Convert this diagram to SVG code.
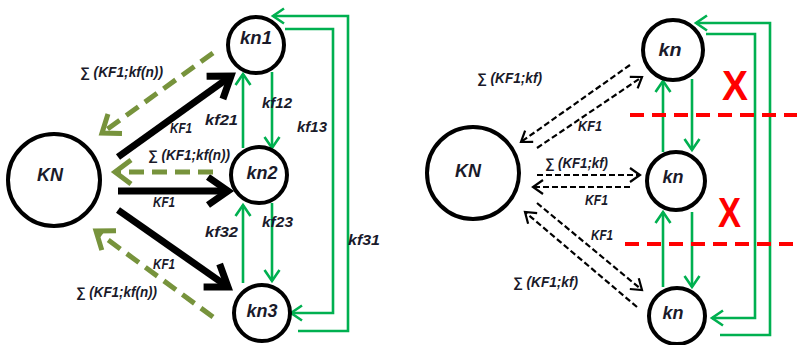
<svg xmlns="http://www.w3.org/2000/svg" width="797" height="345" viewBox="0 0 797 345">
<style>
.node{fill:#fff;stroke:#000;stroke-width:4}
.lbl{font-family:"Liberation Sans",Arial,sans-serif;font-weight:bold;font-style:italic;fill:#1a1a2a}
.nt{font-size:18px}
.st{font-size:14px}
.g{fill:none;stroke:#00b050;stroke-width:2.6;marker-end:url(#mg)}
.bk{fill:none;stroke:#000;stroke-width:7;marker-end:url(#mb)}
.ol{fill:none;stroke:#77933c;stroke-width:5;stroke-dasharray:15 8;marker-end:url(#mo)}
.bd{fill:none;stroke:#000;stroke-width:2.2;stroke-dasharray:6 3;marker-end:url(#md)}
.rd{fill:none;stroke:#ff0000;stroke-width:4;stroke-dasharray:14 8}
.x{font-family:"Liberation Sans",Arial,sans-serif;font-weight:bold;font-size:42px;fill:#ff0000}
</style>
<defs>
<marker id="mg" markerUnits="userSpaceOnUse" viewBox="-16 -11 18 22" markerWidth="18" markerHeight="22" refX="0" refY="0" orient="auto" overflow="visible">
<path d="M-11,-7.5 L0,0 L-11,7.5" fill="none" stroke="#00b050" stroke-width="2.6"/>
</marker>
<marker id="mb" markerUnits="userSpaceOnUse" viewBox="-30 -20 34 40" markerWidth="34" markerHeight="40" refX="0" refY="0" orient="auto" overflow="visible">
<path d="M-20,-14 L0,0 L-20,14" fill="none" stroke="#000" stroke-width="7"/>
</marker>
<marker id="mo" markerUnits="userSpaceOnUse" viewBox="-24 -16 28 32" markerWidth="28" markerHeight="32" refX="0" refY="0" orient="auto" overflow="visible">
<path d="M-16,-12 L0,0 L-16,12" fill="none" stroke="#77933c" stroke-width="5"/>
</marker>
<marker id="md" markerUnits="userSpaceOnUse" viewBox="-14 -10 16 20" markerWidth="16" markerHeight="20" refX="0" refY="0" orient="auto" overflow="visible">
<path d="M-10,-7 L0,0 L-10,7" fill="none" stroke="#000" stroke-width="2.2"/>
</marker>
</defs>

<g id="connectors">
<!-- left green -->
<path class="g" d="M272,72 L272,148"/>
<path class="g" d="M243,148 L243,74"/>
<path class="g" d="M243,283 L243,205"/>
<path class="g" d="M272,203 L272,281"/>
<path class="g" d="M285,29 L333,29 L333,313 L291,313"/>
<path class="g" d="M298,331 L348,331 L348,16 L273,16"/>
<!-- left black thick -->
<path class="bk" d="M118,157 L231,76"/>
<path class="bk" d="M118,191 L228,191"/>
<path class="bk" d="M118,210 L228,287"/>
<!-- left olive dashed -->
<path class="ol" d="M213,53 L102,133"/>
<path class="ol" d="M213,172 L115,172"/>
<path class="ol" d="M213,317 L96,231"/>
<!-- right green -->
<path class="g" d="M663,152 L663,81"/>
<path class="g" d="M692,79 L692,150"/>
<path class="g" d="M663,287 L663,212"/>
<path class="g" d="M692,212 L692,287"/>
<path class="g" d="M706,34 L755,34 L755,318 L712,318"/>
<path class="g" d="M720,335 L770,335 L770,23 L696,23"/>
<!-- right black dashed -->
<path class="bd" d="M630,65 L521,142"/>
<path class="bd" d="M537,148 L642,77"/>
<path class="bd" d="M537,175 L640,175"/>
<path class="bd" d="M630,187 L533,187"/>
<path class="bd" d="M537,203 L642,290"/>
<path class="bd" d="M637,307 L525,212"/>
<!-- red dashed separators -->
<path class="rd" d="M630,115 L797,115"/>
<path class="rd" d="M625,244 L797,244"/>
</g>

<g id="node-KN-left">
<circle class="node" cx="54" cy="180" r="46"/>
<text class="lbl nt" x="50" y="181" text-anchor="middle" textLength="26" lengthAdjust="spacingAndGlyphs">KN</text>
</g>
<g id="node-kn1">
<circle class="node" cx="256" cy="45" r="28"/>
<text class="lbl nt" x="256" y="44" text-anchor="middle" textLength="32" lengthAdjust="spacingAndGlyphs">kn1</text>
</g>
<g id="node-kn2">
<circle class="node" cx="259" cy="175" r="28"/>
<text class="lbl nt" x="262" y="179" text-anchor="middle" textLength="31" lengthAdjust="spacingAndGlyphs">kn2</text>
</g>
<g id="node-kn3">
<circle class="node" cx="262" cy="313" r="28"/>
<text class="lbl nt" x="262" y="317" text-anchor="middle" textLength="31" lengthAdjust="spacingAndGlyphs">kn3</text>
</g>

<g id="node-KN-right">
<circle class="node" cx="473" cy="173" r="46"/>
<text class="lbl nt" x="468" y="177" text-anchor="middle" textLength="26" lengthAdjust="spacingAndGlyphs">KN</text>
</g>
<g id="node-kn-top">
<circle class="node" cx="673" cy="50" r="30"/>
<text class="lbl nt" x="670" y="56" text-anchor="middle" textLength="23" lengthAdjust="spacingAndGlyphs">kn</text>
</g>
<g id="node-kn-mid">
<circle class="node" cx="676" cy="181" r="29"/>
<text class="lbl nt" x="673" y="183" text-anchor="middle" textLength="21" lengthAdjust="spacingAndGlyphs">kn</text>
</g>
<g id="node-kn-bottom">
<circle class="node" cx="677" cy="316" r="28"/>
<text class="lbl nt" x="673" y="319" text-anchor="middle" textLength="21" lengthAdjust="spacingAndGlyphs">kn</text>
</g>

<g id="labels">
<text class="lbl st" x="80" y="77" textLength="83" lengthAdjust="spacingAndGlyphs">∑ (KF1;kf(n))</text>
<text class="lbl st" x="170" y="133" textLength="22" lengthAdjust="spacingAndGlyphs">KF1</text>
<text class="lbl st" x="205" y="125" textLength="33" lengthAdjust="spacingAndGlyphs">kf21</text>
<text class="lbl st" x="262" y="108" textLength="30" lengthAdjust="spacingAndGlyphs">kf12</text>
<text class="lbl st" x="297" y="132" textLength="30" lengthAdjust="spacingAndGlyphs">kf13</text>
<text class="lbl st" x="148" y="160" textLength="82" lengthAdjust="spacingAndGlyphs">∑ (KF1;kf(n))</text>
<text class="lbl st" x="153" y="207" textLength="22" lengthAdjust="spacingAndGlyphs">KF1</text>
<text class="lbl st" x="205" y="237" textLength="33" lengthAdjust="spacingAndGlyphs">kf32</text>
<text class="lbl st" x="262" y="227" textLength="31" lengthAdjust="spacingAndGlyphs">kf23</text>
<text class="lbl st" x="348" y="245" textLength="32" lengthAdjust="spacingAndGlyphs">kf31</text>
<text class="lbl st" x="153" y="269" textLength="22" lengthAdjust="spacingAndGlyphs">KF1</text>
<text class="lbl st" x="76" y="297" textLength="81" lengthAdjust="spacingAndGlyphs">∑ (KF1;kf(n))</text>

<text class="lbl st" x="477" y="83" textLength="65" lengthAdjust="spacingAndGlyphs">∑ (KF1;kf)</text>
<text class="lbl st" x="578" y="131" textLength="24" lengthAdjust="spacingAndGlyphs">KF1</text>
<text class="lbl st" x="545" y="168" textLength="63" lengthAdjust="spacingAndGlyphs">∑ (KF1;kf)</text>
<text class="lbl st" x="585" y="205" textLength="23" lengthAdjust="spacingAndGlyphs">KF1</text>
<text class="lbl st" x="591" y="240" textLength="22" lengthAdjust="spacingAndGlyphs">KF1</text>
<text class="lbl st" x="513" y="287" textLength="65" lengthAdjust="spacingAndGlyphs">∑ (KF1;kf)</text>

<text class="x" x="722" y="100" textLength="26" lengthAdjust="spacingAndGlyphs">X</text>
<text class="x" x="718" y="227" textLength="23" lengthAdjust="spacingAndGlyphs">X</text>
</g>
</svg>
